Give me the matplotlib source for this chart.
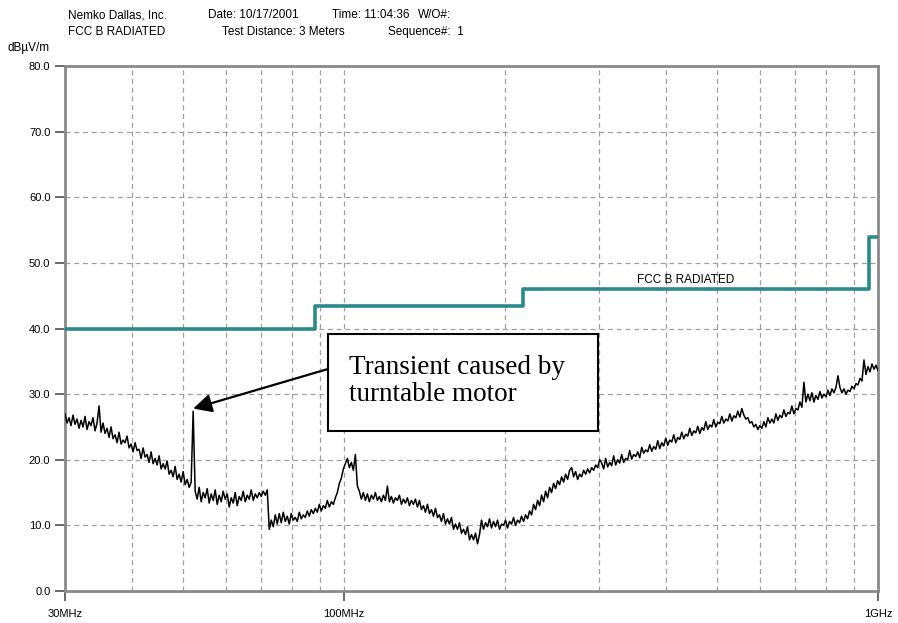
import matplotlib.pyplot as plt
import matplotlib.patches as patches
import matplotlib.ticker as ticker
import numpy as np

# Measured trace (dBuV/m), one reading per sweep point, 30 MHz -> 1 GHz log sweep
level_db = [
    27.0, 25.6, 26.4, 25.2, 26.8, 25.4, 26.2, 24.8, 26.0, 25.0,
    26.6, 24.6, 25.8, 25.2, 26.4, 24.4, 25.6, 28.2, 24.2,
    25.6, 24.0, 24.8, 23.4, 25.0, 23.2, 23.8, 22.6, 24.2, 22.4,
    23.0, 22.6, 23.6, 21.8, 22.4, 21.2, 22.6, 21.4, 21.6, 20.2,
    21.8, 20.4, 20.8, 19.6, 21.2, 19.4, 20.2, 19.2, 20.6, 18.6,
    19.4, 18.6, 19.8, 17.8, 18.4, 17.4, 19.0, 17.0, 17.8, 16.6,
    18.2, 16.2, 17.0, 15.8, 16.6,
    27.4, 15.2,
    14.0, 15.8, 13.6, 15.0, 14.2, 15.6, 13.4, 14.8, 13.8, 15.4,
    13.2, 14.6, 13.6, 15.2, 14.0, 14.8, 12.8, 14.2, 13.4, 15.0,
    13.0, 14.4, 13.8, 15.2, 13.6, 14.6, 14.0, 15.4, 13.8, 14.8,
    14.2, 15.0, 14.4, 15.2, 14.6, 15.4,
    9.4,
    10.8, 9.8, 11.6, 10.2, 11.8, 10.4, 12.0, 10.6, 11.4, 10.2,
    11.8, 10.8, 11.2, 10.6, 12.0, 11.0, 11.6, 11.2, 12.2, 11.4,
    12.4, 11.8, 12.6, 12.0, 13.2, 12.2, 13.0, 12.6, 13.8, 12.8,
    13.6, 13.2, 14.2,
    15.0, 16.4, 17.2, 18.6, 19.4, 20.2, 18.8, 19.6, 18.4, 20.8, 16.0,
    15.2, 14.0, 15.0, 13.8, 14.8, 13.6, 14.6, 14.0, 15.0, 13.8,
    14.4, 13.6, 14.6, 13.8, 16.0, 13.6, 14.4, 13.4, 14.2, 13.8,
    14.6, 13.2, 14.0, 13.4, 14.2, 13.0, 13.8, 13.2, 14.0,
    12.8, 13.8, 12.4, 13.0, 12.0, 13.2, 11.8, 12.4, 11.4, 12.6,
    11.2, 11.6, 10.6, 11.8, 10.2, 11.0, 10.2, 11.2, 9.4, 10.2,
    9.4, 10.4, 8.8, 9.4, 8.6, 9.8, 7.8, 8.6, 7.8, 8.8, 7.2,
    8.6, 10.8, 9.4, 10.4, 9.8, 11.0, 9.6, 10.6, 9.8, 10.8,
    9.4, 10.2, 10.0, 10.8, 9.6, 10.6, 10.2, 11.2, 10.0, 10.8,
    10.4, 11.4, 10.6, 11.6, 11.0,
    12.2, 11.6, 13.2, 12.4, 13.8, 13.0, 14.6, 13.6, 15.2, 14.2,
    15.8, 15.0, 16.4, 15.6, 16.8, 16.2, 17.4, 16.6, 17.8, 17.0,
    18.4, 18.8,
    17.4, 18.2, 17.0, 17.8, 17.4, 18.4, 17.8, 18.6, 18.0, 18.8,
    18.4, 19.2, 18.8, 20.0,
    19.5, 18.6, 20.2, 18.9, 19.6, 19.1, 20.6, 19.2, 20.0, 19.5,
    20.8, 19.6, 20.2, 20.0, 21.4, 20.1, 20.8, 20.5, 21.2, 20.3,
    21.9, 21.0, 21.5, 21.2, 22.3, 21.3, 22.0, 21.6, 22.9, 21.7,
    22.6, 22.1, 23.3, 22.2, 23.0, 22.7, 23.8, 22.6, 23.4, 23.1,
    24.2, 23.2, 23.9, 23.6, 24.8, 23.7, 24.4, 24.1, 25.1, 24.0,
    24.9, 24.5, 25.8, 24.6, 25.3, 25.0, 26.1, 25.0, 25.7, 25.5,
    26.6, 25.6, 26.2, 25.9, 27.0, 25.9, 26.7, 26.4, 27.4, 26.5,
    27.8,
    26.8, 26.2, 26.4, 25.6, 25.8, 25.0, 25.4, 24.6, 25.2, 24.8,
    25.8, 25.0, 26.4, 25.6, 26.2, 25.6, 27.0, 26.0, 26.8, 26.4,
    27.6, 26.6, 27.2, 27.0, 28.2, 27.0, 27.8, 27.6, 28.8, 28.0,
    31.8,
    28.8, 30.0, 29.0, 30.2, 28.8, 29.8, 29.2, 30.4, 29.4, 30.0,
    29.6, 30.6, 29.8, 30.8, 30.2, 31.0,
    32.8,
    31.0, 30.2, 30.8, 30.0, 30.6, 30.4, 31.2, 30.8, 31.6, 31.4, 32.4, 32.0,
    35.2,
    33.0, 34.2, 33.4, 34.6, 33.8, 34.4, 33.6,
]
sweep_mhz = np.geomspace(30, 1000, len(level_db))
transient_idx = 64

# FCC class B radiated limit (3 m)
limit_mhz = [30, 88, 88, 216, 216, 960, 960, 1000]
limit_db = [40, 40, 43.5, 43.5, 46, 46, 54, 54]

W, H = 898, 623
fig = plt.figure(figsize=(W / 100, H / 100), dpi=100)
ax = fig.add_axes([65 / W, (H - 591) / H, 813 / W, 525 / H])

grid_kw = dict(color='#a0a0a0', lw=0.9, ls=(0, (4, 3)), zorder=1)
for f in [40, 50, 60, 70, 80, 90, 100, 200, 300, 400, 500, 600, 700, 800, 900]:
    ax.axvline(f, **grid_kw)
for y in range(10, 80, 10):
    ax.axhline(y, **grid_kw)

ax.plot(limit_mhz, limit_db, color='#2a8a8a', lw=2.6, zorder=3)
ax.plot(sweep_mhz, level_db, color='black', lw=1.1, zorder=4)
ax.text(354, 47.4, 'FCC B RADIATED', fontsize=8.5, family='Liberation Sans',
        va='center', ha='left')

ax.set_xscale('log')
ax.set_xlim(30, 1000)
ax.set_ylim(0, 80)
ax.xaxis.set_major_locator(ticker.FixedLocator([30, 100, 1000]))
ax.xaxis.set_major_formatter(ticker.FixedFormatter(['30MHz', '100MHz', '1GHz']))
ax.xaxis.set_minor_locator(ticker.NullLocator())
ax.set_yticks(range(0, 90, 10))
ax.set_yticklabels([f'{v:.1f}' for v in range(0, 90, 10)])
ax.tick_params(axis='both', colors='#505050', labelcolor='black', labelsize=8,
               width=1.2, length=7)
ax.tick_params(axis='x', pad=6)
for lab in ax.get_xticklabels() + ax.get_yticklabels():
    lab.set_family('Liberation Sans')
for sp in ax.spines.values():
    sp.set_color('#8a8a8a')
    sp.set_linewidth(2.0)

# header
hdr = dict(fontsize=8.5, family='Liberation Sans', va='center')
fig.text(68 / W, 1 - 15 / H, 'Nemko Dallas, Inc.', **hdr)
fig.text(208 / W, 1 - 15 / H, 'Date: 10/17/2001', **hdr)
fig.text(332 / W, 1 - 15 / H, 'Time: 11:04:36', **hdr)
fig.text(418 / W, 1 - 15 / H, 'W/O#:', **hdr)
fig.text(68 / W, 1 - 32 / H, 'FCC B RADIATED', **hdr)
fig.text(222 / W, 1 - 32 / H, 'Test Distance: 3 Meters', **hdr)
fig.text(388 / W, 1 - 32 / H, 'Sequence#:  1', **hdr)
fig.text(8 / W, 1 - 48 / H, 'dBµV/m', **hdr)

# annotation box
fig.patches.append(patches.Rectangle((328 / W, 1 - 431 / H), 270 / W, 97 / H,
                                     transform=fig.transFigure, fill=True,
                                     facecolor='white', edgecolor='black',
                                     lw=1.5, zorder=5))
fig.text(349 / W, 1 - 381 / H, 'Transient caused by\nturntable motor',
         fontsize=19.5, family='Liberation Serif', va='center', ha='left',
         linespacing=1.12, zorder=6)
ax.annotate('', xy=(sweep_mhz[transient_idx], 27.8),
            xytext=(328 / W, 1 - 369 / H), textcoords='figure fraction',
            arrowprops=dict(arrowstyle='-|>', mutation_scale=28, color='black',
                            lw=1.6, shrinkA=0, shrinkB=0), zorder=6)

fig.savefig('out.png', dpi=100)
